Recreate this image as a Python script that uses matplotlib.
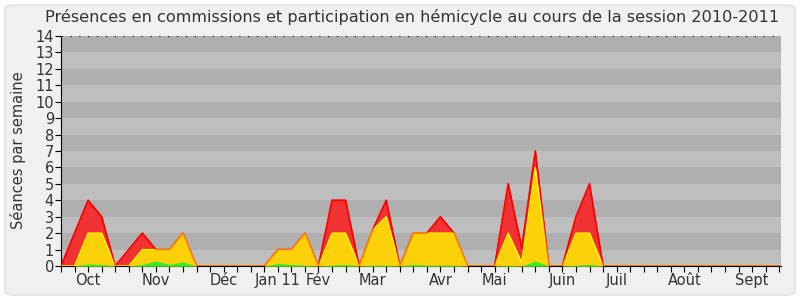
import matplotlib
matplotlib.use("Agg")
import matplotlib.pyplot as plt
from matplotlib.patches import FancyBboxPatch

# une valeur par semaine, session 2010-2011
semaines = list(range(54))
presences = [0, 2, 4, 3, 0, 1, 2, 1, 1, 2, 0, 0, 0, 0, 0, 0, 1, 1, 2, 0,
             4, 4, 0, 2.2, 4, 0, 2, 2, 3, 2, 0, 0, 0, 5, 1.1, 7, 0, 0, 3, 5,
             0, 0, 0, 0, 0, 0, 0, 0, 0, 0, 0, 0, 0, 0]
hemicycle = [0, 0, 2, 2, 0, 0, 1, 1, 1, 2, 0, 0, 0, 0, 0, 0, 1, 1, 2, 0,
             2, 2, 0, 2.2, 3, 0, 2, 2, 2, 2, 0, 0, 0, 2, 0.2, 6, 0, 0, 2, 2,
             0, 0, 0, 0, 0, 0, 0, 0, 0, 0, 0, 0, 0, 0]
interventions = [0, 0, 0.12, 0.1, 0, 0, 0.1, 0.3, 0.1, 0.25, 0, 0, 0, 0, 0, 0, 0.15, 0.1, 0.05, 0,
                 0.05, 0.1, 0, 0.05, 0.05, 0, 0.1, 0.05, 0.05, 0.05, 0, 0, 0, 0.05, 0, 0.3, 0, 0, 0.05, 0.1,
                 0, 0, 0, 0, 0, 0, 0, 0, 0, 0, 0, 0, 0, 0]
mois = ["Oct", "Nov", "Déc", "Jan 11", "Fév", "Mar", "Avr", "Mai", "Juin", "Juil", "Août", "Sept"]
mois_pos = [2, 7, 12, 16, 19, 23, 28, 32, 37, 41, 46, 51]

fig = plt.figure(figsize=(8, 3), dpi=100)
fig.patch.set_facecolor("white")
fond = FancyBboxPatch((5 / 800, 5 / 300), 790 / 800, 290 / 300,
                      boxstyle="round,pad=0,rounding_size=0.012",
                      transform=fig.transFigure, facecolor="#f0f0f0",
                      edgecolor="#dedede", linewidth=1, zorder=-10)
fig.add_artist(fond)

ax = fig.add_axes([61 / 800, 34 / 300, 720 / 800, 230 / 300])
ax.set_zorder(1)
ax.set_xlim(0, 53.13)
ax.set_ylim(0, 14)

# bandes horizontales alternees
for k in range(14):
    ax.axhspan(k, k + 1, color="#afafaf" if k % 2 else "#bebebe", lw=0, zorder=0)
ax.axhline(14, color="black", lw=0.8, ls=(0, (1, 7)), zorder=1)

ax.fill_between(semaines, presences, color="#f03232", lw=0, zorder=2)
ax.plot(semaines, presences, color="#ff0000", lw=1.2, zorder=2)
ax.fill_between(semaines, hemicycle, color="#fdd10a", lw=0, zorder=3)
ax.plot(semaines, hemicycle, color="#ffff00", lw=1, zorder=3)
ax.fill_between(semaines, interventions, color="#33ee22", lw=0, zorder=4)
ax.plot(semaines, presences, color="#ff0000", lw=1, alpha=0.5, zorder=5)

ax.set_yticks(range(15))
ax.set_xticks(semaines)
ax.set_xticklabels([])
ax.tick_params(axis="x", length=4, width=0.8, colors="black")
ax.tick_params(axis="y", length=4, width=0.8, labelsize=10.5, pad=1, labelcolor="#333333")
for p, m in zip(mois_pos, mois):
    ax.text(p, -0.45, m, ha="center", va="top", fontsize=10.5, color="#333333")

for s in ["top", "right"]:
    ax.spines[s].set_visible(False)
ax.spines["left"].set_linewidth(0.8)
ax.spines["bottom"].set_linewidth(0.8)

fig.text(18 / 800, 1 - 150 / 300, "Séances par semaine", rotation=90,
         ha="center", va="center", fontsize=10.5, color="#333333")
fig.text(412 / 800, 1 - 17 / 300,
         "Présences en commissions et participation en hémicycle au cours de la session 2010-2011",
         ha="center", va="center", fontsize=11.65, color="#333333")

fig.savefig("out.png", dpi=100, facecolor=fig.get_facecolor())
